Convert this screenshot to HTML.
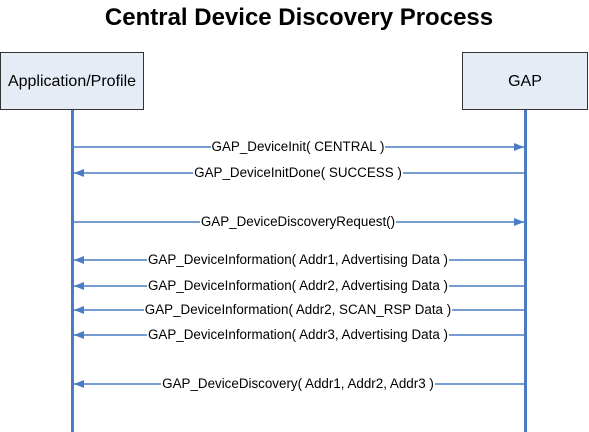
<!DOCTYPE html>
<html><head><style>
body{margin:0;background:#fff;width:589px;height:432px;overflow:hidden;position:relative;font-family:"Liberation Sans",Arial,sans-serif}
.l{position:absolute;left:0;width:596px;text-align:center;font-size:13.4px;line-height:14px}
.l span{background:#fff;padding:0 1px}
</style></head><body>
<svg width="589" height="432" xmlns="http://www.w3.org/2000/svg" font-family="Liberation Sans, Arial, sans-serif" style="position:absolute;left:0;top:0">
<defs>
<marker id="a" markerWidth="10" markerHeight="8" refX="10" refY="4" orient="auto" markerUnits="userSpaceOnUse">
<path d="M0,0 L10,4 L0,8 z" fill="#4a7cc4"/></marker>
</defs>
<text x="299" y="25" font-size="24" font-weight="bold" text-anchor="middle">Central Device Discovery Process</text>
<rect x="0.5" y="52.5" width="143" height="57" fill="#e6ecf6" stroke="#333"/>
<text x="72" y="86" font-size="16" text-anchor="middle">Application/Profile</text>
<rect x="462.5" y="52.5" width="125" height="57" fill="#e6ecf6" stroke="#333"/>
<text x="525" y="86" font-size="16" text-anchor="middle">GAP</text>
<line x1="72.5" y1="110" x2="72.5" y2="432" stroke="#4a7cc4" stroke-width="3"/>
<line x1="525.5" y1="110" x2="525.5" y2="432" stroke="#4a7cc4" stroke-width="3"/>
<g stroke="#4a7cc4" stroke-width="1.5" marker-end="url(#a)">
<line x1="74" y1="147" x2="524" y2="147"/>
<line x1="524" y1="173" x2="74" y2="173"/>
<line x1="74" y1="222" x2="524" y2="222"/>
<line x1="524" y1="260" x2="74" y2="260"/>
<line x1="524" y1="286" x2="74" y2="286"/>
<line x1="524" y1="310" x2="74" y2="310"/>
<line x1="524" y1="335" x2="74" y2="335"/>
<line x1="524" y1="384" x2="74" y2="384"/>
</g>
</svg>
<div class="l" style="top:140px"><span>GAP_DeviceInit( CENTRAL )</span></div>
<div class="l" style="top:166px"><span>GAP_DeviceInitDone( SUCCESS )</span></div>
<div class="l" style="top:215px"><span>GAP_DeviceDiscoveryRequest()</span></div>
<div class="l" style="top:253px"><span>GAP_DeviceInformation( Addr1, Advertising Data )</span></div>
<div class="l" style="top:279px"><span>GAP_DeviceInformation( Addr2, Advertising Data )</span></div>
<div class="l" style="top:303px"><span>GAP_DeviceInformation( Addr2, SCAN_RSP Data )</span></div>
<div class="l" style="top:328px"><span>GAP_DeviceInformation( Addr3, Advertising Data )</span></div>
<div class="l" style="top:377px"><span>GAP_DeviceDiscovery( Addr1, Addr2, Addr3 )</span></div>
</body></html>
